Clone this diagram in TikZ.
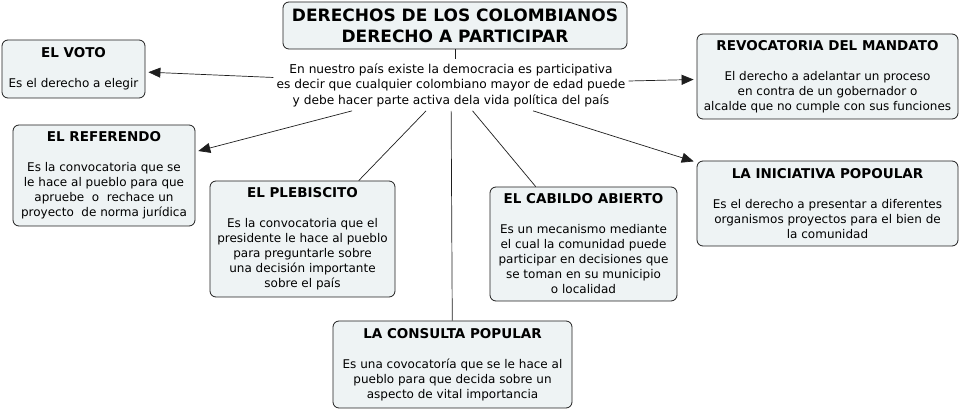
\documentclass[tikz,border=0pt]{standalone}
\usepackage{fontspec}
\setmainfont{DejaVu Sans}
\usepackage{tikz}
\usetikzlibrary{arrows.meta,positioning}
\definecolor{boxfill}{RGB}{238,243,244}
\definecolor{linecol}{RGB}{30,30,30}

\begin{document}
\begin{tikzpicture}[x=1pt, y=-1pt,
    concept/.style={draw=linecol, line width=0.8pt, rounded corners=6pt, fill=boxfill,
      align=center, inner sep=2pt, font=\fontsize{12}{15}\selectfont},
    arr/.style={-{Triangle[length=12pt,width=10pt]}, shorten >=3pt},
    link/.style={draw=linecol, line width=0.7pt}]
    \useasboundingbox (0,0) rectangle (962,411);
    % Top: main title and its text
    \node[concept, minimum width=344pt, minimum height=47pt,
      font=\fontsize{17}{21}\selectfont\bfseries] (title) at (455,25.5)
      {DERECHOS DE LOS COLOMBIANOS\\DERECHO A PARTICIPAR};
    \node[align=center, inner xsep=3pt, inner ysep=4pt, font=\fontsize{12.2}{15.5}\selectfont] (txt) at (451,85)
      {En nuestro país existe la democracia es participativa\\
       es decir que cualquier colombiano mayor de edad puede\\
       y debe hacer parte activa dela vida política del país};
    % Left side
    \node[concept, minimum width=143pt, minimum height=58pt] (voto) at (73.5,69)
      {{\fontsize{13.5}{15}\selectfont\bfseries EL VOTO}\\[15pt]
       Es el derecho a elegir};
    \node[concept, minimum width=182pt, minimum height=101pt] (referendo) at (104,175.5)
      {{\fontsize{13.5}{15}\selectfont\bfseries EL REFERENDO}\\[15pt]
       Es la convocatoria que se\\le hace al pueblo para que\\
       apruebe~ o~ rechace un\\proyecto~ de norma jurídica};
    \node[concept, minimum width=185pt, minimum height=116pt] (plebiscito) at (302.5,239)
      {{\fontsize{13.5}{15}\selectfont\bfseries EL PLEBISCITO}\\[15pt]
       Es la convocatoria que el\\presidente le hace al pueblo\\
       para preguntarle sobre\\una decisión importante\\sobre el país};
    % Bottom
    \node[concept, minimum width=239pt, minimum height=87pt] (consulta) at (452.5,364.5)
      {{\fontsize{13.5}{15}\selectfont\bfseries LA CONSULTA POPULAR}\\[15pt]
       Es una covocatoría que se le hace al\\pueblo para que decida sobre un\\
       aspecto de vital importancia};
    \node[concept, minimum width=187pt, minimum height=114pt] (cabildo) at (583.5,244)
      {{\fontsize{13.5}{15}\selectfont\bfseries EL CABILDO ABIERTO}\\[15pt]
       Es un mecanismo mediante\\el cual la comunidad puede\\
       participar en decisiones que\\se toman en su municipio\\o localidad};
    % Right side
    \node[concept, minimum width=261pt, minimum height=85pt] (revocatoria) at (827.5,76.5)
      {{\fontsize{13.5}{15}\selectfont\bfseries REVOCATORIA DEL MANDATO}\\[15pt]
       El derecho a adelantar un proceso\\en contra de un gobernador o\\
       alcalde que no cumple con sus funciones};
    \node[concept, minimum width=261pt, minimum height=85pt] (iniciativa) at (827.5,203.5)
      {{\fontsize{13.5}{15}\selectfont\bfseries LA INICIATIVA POPOULAR}\\[15pt]
       Es el derecho a presentar a diferentes\\organismos proyectos para el bien de\\
       la comunidad};
    % Connectors
    \draw[link] (title.south) -- (title.south |- txt.north);
    \draw[link, arr] (txt) -- (voto);
    \draw[link, arr] (txt) -- (referendo);
    \draw[link] (txt) -- (plebiscito);
    \draw[link] (txt) -- (consulta);
    \draw[link] (txt) -- (cabildo);
    \draw[link, arr] (txt) -- (revocatoria);
    \draw[link, arr] (txt) -- (iniciativa);
  \end{tikzpicture}
\end{document}
